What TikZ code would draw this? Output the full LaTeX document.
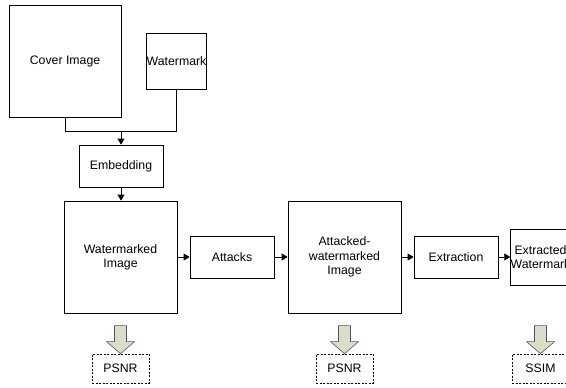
\documentclass[tikz,border=0pt]{standalone}
\usepackage{fontspec}
\setmainfont{Liberation Sans}
\usetikzlibrary{arrows.meta}
\definecolor{fatfill}{HTML}{D9DEC8}
\definecolor{fatline}{HTML}{555555}
\begin{document}
\begin{tikzpicture}[x=1pt,y=-1pt,
  box/.style={draw=black,line width=0.8pt,inner sep=0pt,align=center,
    font=\fontsize{12.3}{14.3}\selectfont},
  dbox/.style={box,dash pattern=on 2pt off 1.5pt,line width=0.7pt},
  arr/.style={line width=0.8pt,-{Triangle[length=6pt,width=7pt]}},
  ln/.style={line width=0.8pt},
  fat/.style={draw=fatline,fill=fatfill,line width=0.6pt,line join=miter}]
\useasboundingbox (0,0) rectangle (566,388);
\node[box,minimum width=112pt,minimum height=112pt] (cover) at (65,61) {Cover Image};
\node[box,minimum width=57pt,minimum height=56pt] (wm) at (176.5,61) {Watermark};
\node[box,minimum width=84pt,minimum height=42pt] (emb) at (121,166) {Embedding};
\node[box,minimum width=113pt,minimum height=112pt] (wmi) at (120.5,257) {Watermarked\\Image};
\node[box,minimum width=84pt,minimum height=42pt] (att) at (232,257) {Attacks};
\node[box,minimum width=113pt,minimum height=112pt] (awi) at (344.5,257) {Attacked-\\watermarked\\Image};
\node[box,minimum width=84pt,minimum height=42pt] (ext) at (456,257) {Extraction};
\node[box,minimum width=57pt,minimum height=56pt] (exw) at (540.5,257) {Extracted\\Watermark};
\node[dbox,minimum width=57pt,minimum height=29pt] (p1) at (120.5,368.5) {PSNR};
\node[dbox,minimum width=57pt,minimum height=29pt] (p2) at (344.5,368.5) {PSNR};
\node[dbox,minimum width=57pt,minimum height=29pt] (s1) at (540.5,368.5) {SSIM};
\coordinate (jn) at (121,131);
\draw[ln] (cover.south) -- (cover.south |- jn) -- (wm.south |- jn) -- (wm.south);
\draw[arr] (jn) -- (emb.north);
\draw[arr] (emb.south) -- (emb.south |- wmi.north);
\draw[arr] (wmi.east) -- (att.west);
\draw[arr] (att.east) -- (awi.west);
\draw[arr] (awi.east) -- (ext.west);
\draw[arr] (ext.east) -- (exw.west);
\foreach \b in {p1,p2,s1}{
  \draw[fat] (\b.north) ++(-6,-28) -- ++(12,0) -- ++(0,16) -- ++(8,0)
    -- (\b.north) -- ++(-14,-12) -- ++(8,0) -- cycle;
}
\end{tikzpicture}
\end{document}
